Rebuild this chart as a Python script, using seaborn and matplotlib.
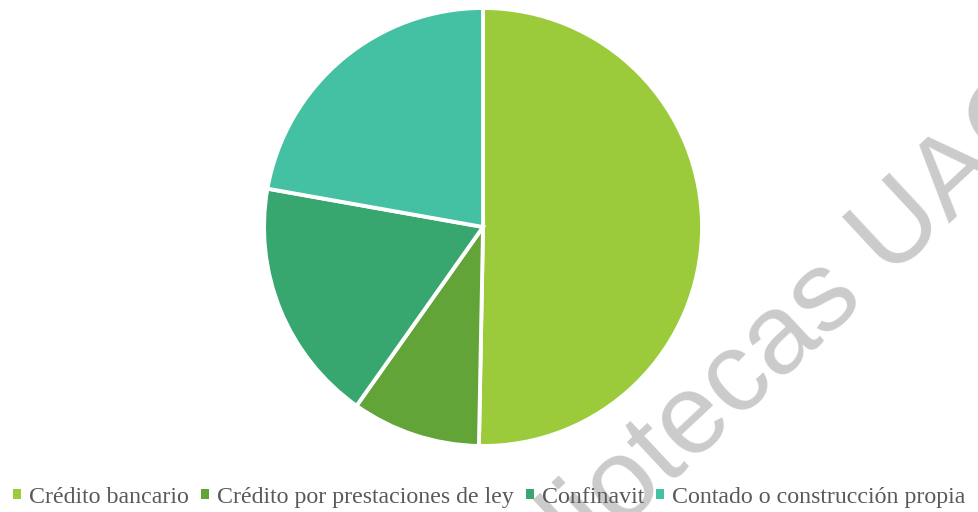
import matplotlib
matplotlib.use("Agg")
import matplotlib.pyplot as plt
import seaborn as sns

# share of each financing type
labels = ["Crédito bancario", "Crédito por prestaciones de ley", "Confinavit",
          "Contado o construcción propia"]
shares = [50.3, 9.5, 18.0, 22.2]
colors = ["#9BCB3B", "#62A438", "#37A76F", "#44C1A3"]
watermark = "Bibliotecas UAQ"

sns.set_style("white")

fig = plt.figure(figsize=(9.79, 5.12), dpi=100)

# watermark behind the chart
fig.text(0.474, -0.3223, watermark, rotation=43, rotation_mode="anchor",
         ha="left", va="baseline", fontsize=82, color="#CBCBCB",
         family="Liberation Sans", zorder=-1)

ax = fig.add_axes([0.2697, 0.1289, 0.4474, 0.8555])
ax.patch.set_alpha(0)
wedges, _ = ax.pie(shares, colors=colors, startangle=90, counterclock=False,
                   radius=1, wedgeprops=dict(edgecolor="white", linewidth=2.8))
ax.set_xlim(-1, 1)
ax.set_ylim(-1, 1)
ax.axis("off")

leg = fig.legend(wedges, labels, loc="center", bbox_to_anchor=(0.5, 0.029),
                 ncol=4, frameon=False, handlelength=0.32, handleheight=0.32,
                 handletextpad=0.35, columnspacing=0.5,
                 prop=dict(family="Liberation Serif", size=17.2))
for t in leg.get_texts():
    t.set_color("#595959")
for h in leg.legend_handles:
    h.set_linewidth(0)

fig.savefig("out.png", dpi=100)
